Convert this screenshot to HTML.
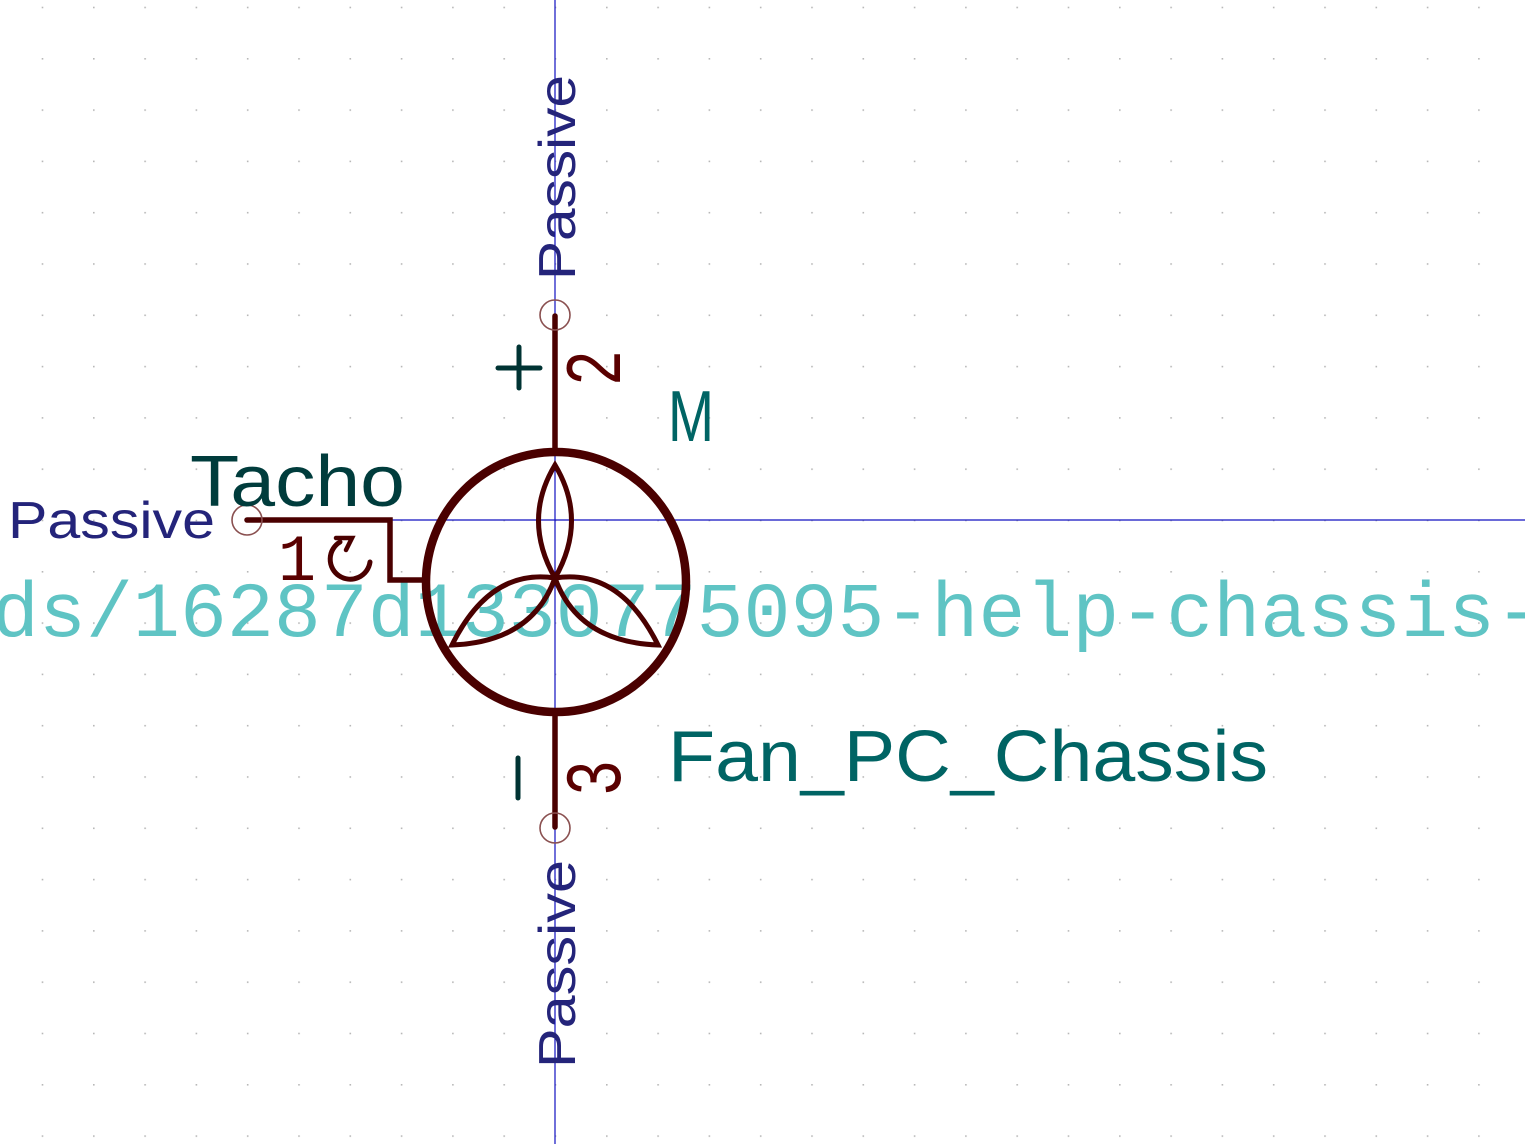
<!DOCTYPE html>
<html><head><meta charset="utf-8"><style>
html,body{margin:0;padding:0;background:#fff;}
svg{display:block;}
</style></head><body>
<svg width="1525" height="1144" viewBox="0 0 1525 1144" xmlns="http://www.w3.org/2000/svg">
<defs>
<pattern id="g" x="41.7" y="6.7" width="51.3" height="51.3" patternUnits="userSpaceOnUse">
<rect x="0" y="0" width="1.6" height="1.6" fill="#b8b8b8"/>
</pattern>
</defs>
<rect width="1525" height="1144" fill="#fff"/>
<rect width="1525" height="1144" fill="url(#g)"/>
<line x1="555" y1="0" x2="555" y2="1144" stroke="#1010c0" stroke-width="1.2"/>
<line x1="246" y1="520" x2="1525" y2="520" stroke="#1010c0" stroke-width="1.2"/>
<text x="-8" y="636" font-family="Liberation Mono, monospace" font-size="78" fill="#5fc4c4" textLength="1550" lengthAdjust="spacingAndGlyphs">ds/16287d1330775095-help-chassis-</text>
<g stroke="#4a0000" stroke-linecap="round" fill="none">
<line x1="555" y1="316" x2="555" y2="450" stroke-width="5.5"/>
<line x1="555" y1="714" x2="555" y2="827" stroke-width="5.5"/>
<polyline points="247,520 390,520 390,580 425,580" stroke-width="5.5" stroke-linejoin="miter"/>
<circle cx="556" cy="582" r="130" stroke-width="8.5"/>
<path d="M555,465 Q588,520 555,578 Q522,520 555,465 Z" stroke-width="5"/>
<path d="M555,578 Q490,568 452,645 Q532,642 555,578 Z" stroke-width="5"/>
<path d="M555,578 Q620,568 658,645 Q578,642 555,578 Z" stroke-width="5"/>
<path d="M340,542 A20,20 0 1 0 370,562" stroke-width="5"/>
<polyline points="336,538 352,538 346,550" stroke-width="4.5"/>
</g>
<g stroke="#8a5050" stroke-width="1.6" fill="none">
<circle cx="555" cy="315" r="15"/>
<circle cx="555" cy="828" r="15"/>
<circle cx="247" cy="520" r="15"/>
</g>
<g font-family="Liberation Mono, monospace" fill="#5a0000">
<text x="278" y="580" font-size="66" textLength="38" lengthAdjust="spacingAndGlyphs">1</text>
<text transform="translate(620,368) rotate(-90)" x="-18" y="0" font-size="80" textLength="36" lengthAdjust="spacingAndGlyphs">2</text>
<text transform="translate(620,778) rotate(-90)" x="-18" y="0" font-size="80" textLength="36" lengthAdjust="spacingAndGlyphs">3</text>
</g>
<g stroke="#003333" stroke-width="5" stroke-linecap="round">
<line x1="498" y1="368" x2="540" y2="368"/>
<line x1="519" y1="347" x2="519" y2="388"/>
<line x1="518" y1="758" x2="518" y2="798"/>
</g>
<g font-family="Liberation Sans, DejaVu Sans, sans-serif">
<text x="8" y="538" font-size="52" fill="#24247a" textLength="207" lengthAdjust="spacingAndGlyphs">Passive</text>
<text transform="translate(575,280) rotate(-90)" font-size="52" fill="#24247a" textLength="205" lengthAdjust="spacingAndGlyphs">Passive</text>
<text transform="translate(575,1068) rotate(-90)" font-size="52" fill="#24247a" textLength="208" lengthAdjust="spacingAndGlyphs">Passive</text>
<text x="190" y="506" font-size="72" fill="#003c3c" textLength="215" lengthAdjust="spacingAndGlyphs">Tacho</text>
<text x="668" y="441" font-size="72" fill="#006464" textLength="46" lengthAdjust="spacingAndGlyphs">M</text>
<text x="668" y="781" font-size="72" fill="#006464" textLength="600" lengthAdjust="spacingAndGlyphs">Fan_PC_Chassis</text>
</g>
</svg>
</body></html>
